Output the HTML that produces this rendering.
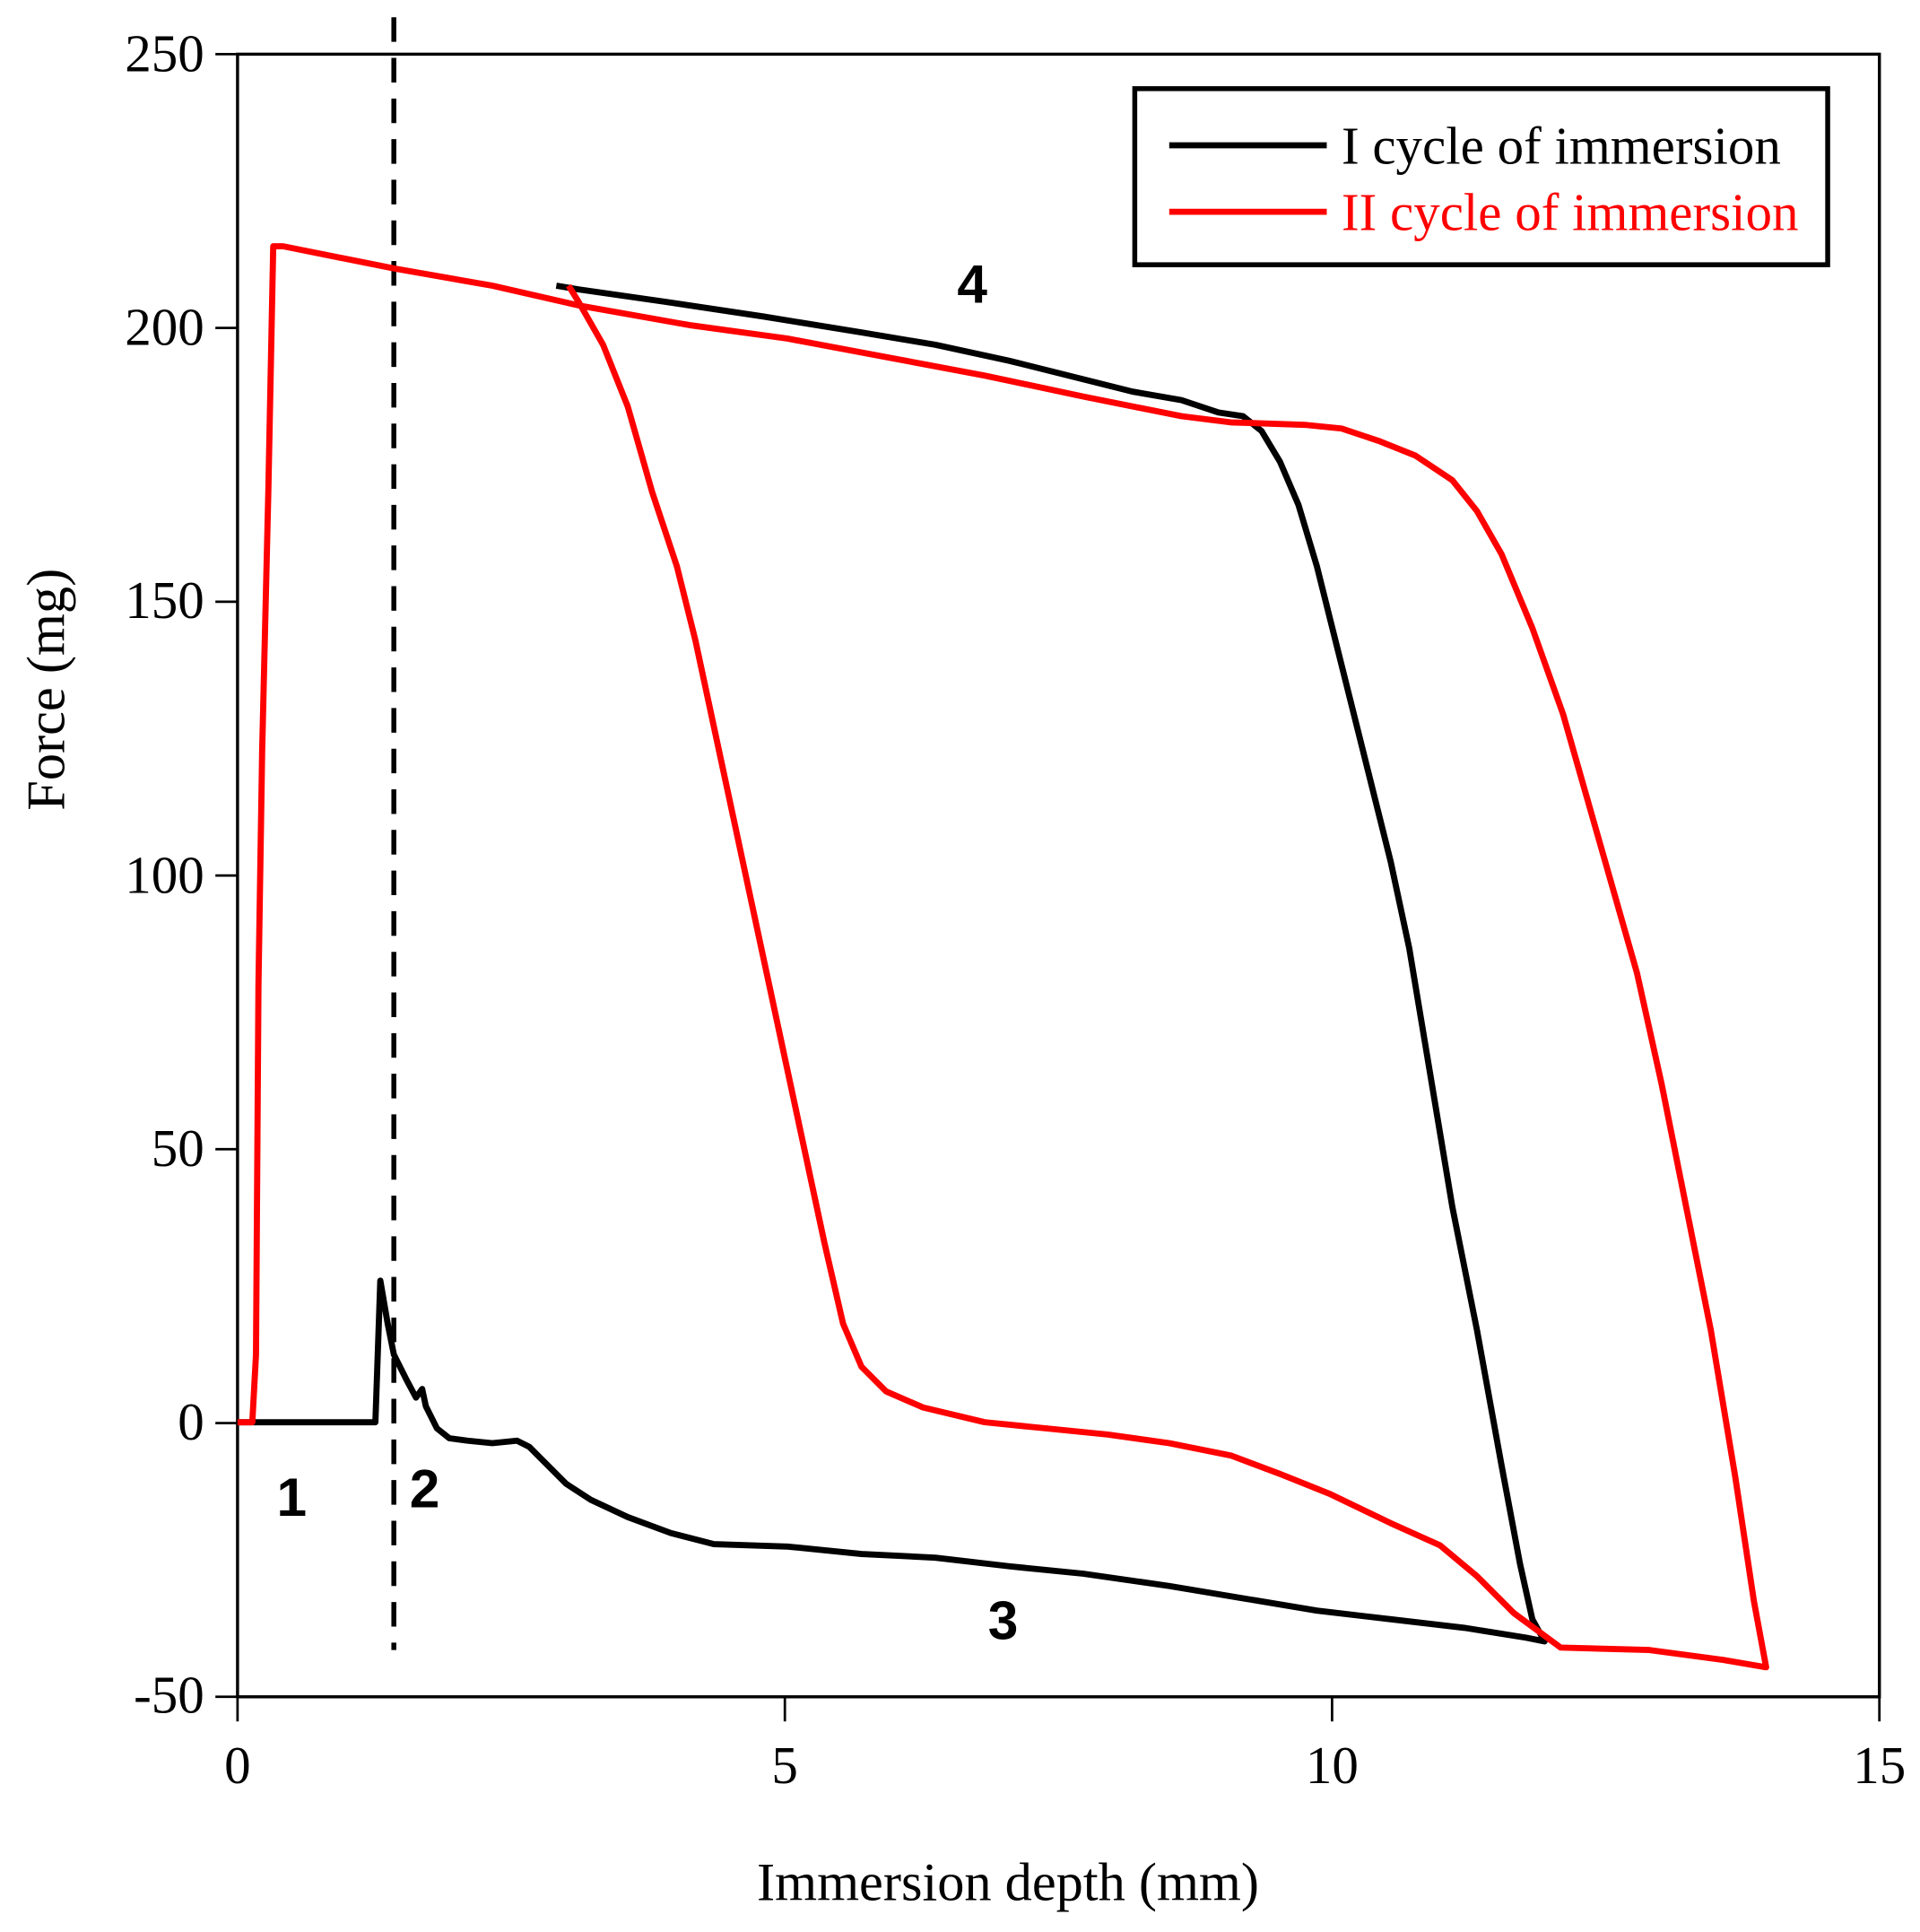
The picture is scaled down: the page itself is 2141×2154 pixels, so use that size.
<!DOCTYPE html>
<html><head><meta charset="utf-8"><style>html,body{margin:0;padding:0;background:#fff}svg{display:block}</style></head>
<body>
<svg width="2141" height="2154" viewBox="0 0 1560 1569" preserveAspectRatio="none" xmlns="http://www.w3.org/2000/svg">
<rect width="1560" height="1569" fill="#fff"/>
<g stroke="#000" stroke-width="2.5" fill="none">
<rect x="193" y="44" width="1334" height="1334"/>
</g>
<g stroke="#000" stroke-width="2">
<line x1="175" y1="44" x2="193" y2="44"/><line x1="175" y1="266.3" x2="193" y2="266.3"/><line x1="175" y1="488.7" x2="193" y2="488.7"/><line x1="175" y1="711" x2="193" y2="711"/><line x1="175" y1="933.3" x2="193" y2="933.3"/><line x1="175" y1="1155.7" x2="193" y2="1155.7"/><line x1="175" y1="1378" x2="193" y2="1378"/>
<line x1="193" y1="1378" x2="193" y2="1398"/><line x1="637.7" y1="1378" x2="637.7" y2="1398"/><line x1="1082.3" y1="1378" x2="1082.3" y2="1398"/><line x1="1527" y1="1378" x2="1527" y2="1398"/>
</g>
<g id="ticks" stroke="#000" stroke-width="1.5"></g>
<g font-family="Liberation Serif, serif" font-size="43" fill="#000">
<g text-anchor="end"><text x="166" y="58">250</text><text x="166" y="280">200</text><text x="166" y="502">150</text><text x="166" y="725">100</text><text x="166" y="947">50</text><text x="166" y="1169">0</text><text x="166" y="1391">-50</text></g>
<g text-anchor="middle"><text x="193" y="1448">0</text><text x="637.7" y="1448">5</text><text x="1082.3" y="1448">10</text><text x="1527" y="1448">15</text>
<text x="819" y="1543" font-size="44">Immersion depth (mm)</text>
<text transform="translate(52,560) rotate(-90)" font-size="44">Force (mg)</text></g>
</g>
<line x1="320" y1="14" x2="320" y2="1340" stroke="#000" stroke-width="4" stroke-dasharray="20,13"/>
<polyline fill="none" stroke="#000" stroke-width="5" stroke-linejoin="round" points="193,1155 305,1155 309,1040 315,1075 320,1100 330,1120 338,1135 343,1128 346,1142 355,1160 365,1168 380,1170 400,1172 420,1170 430,1175 445,1190 460,1205 480,1218 510,1232 545,1245 580,1254 640,1256 700,1262 760,1265 820,1272 880,1278 950,1288 1010,1298 1070,1308 1130,1315 1190,1322 1240,1330 1255,1333 1245,1315 1235,1270 1220,1190 1200,1080 1180,980 1160,860 1145,770 1130,700 1115,640 1100,580 1085,520 1070,460 1055,410 1040,375 1025,350 1010,338 990,335 960,325 920,318 880,308 820,293 760,280 700,270 620,257 540,245 470,235 452,232"/>
<polyline fill="none" stroke="#f00" stroke-width="5" stroke-linejoin="round" points="193,1155 205,1155 208,1100 210,800 213,610 218,400 222,200 230,200 320,218 400,232 470,248 560,264 640,275 720,290 800,305 880,322 960,338 1000,343 1060,345 1090,348 1120,358 1150,370 1180,390 1200,415 1220,450 1245,510 1270,580 1290,650 1310,720 1330,790 1350,880 1370,980 1390,1080 1410,1200 1425,1300 1435,1354 1400,1348 1340,1340 1268,1338 1230,1310 1200,1280 1170,1255 1130,1237 1080,1213 1040,1197 1000,1182 950,1172 900,1165 850,1160 800,1155 750,1143 720,1130 700,1110 685,1075 670,1010 655,940 640,870 625,800 610,730 595,660 580,590 565,520 550,460 530,400 510,330 490,280 470,245 462,232"/>
<g font-family="Liberation Sans, sans-serif" font-weight="bold" font-size="44" fill="#000" text-anchor="middle">
<text x="237" y="1231">1</text><text x="345" y="1224">2</text><text x="815" y="1331">3</text><text x="790" y="246">4</text>
</g>
<rect x="922" y="72" width="563" height="143" fill="#fff" stroke="#000" stroke-width="4"/>
<line x1="950" y1="118" x2="1078" y2="118" stroke="#000" stroke-width="5"/>
<line x1="950" y1="172" x2="1078" y2="172" stroke="#f00" stroke-width="5"/>
<g font-family="Liberation Serif, serif" font-size="43">
<text x="1090" y="133" fill="#000">I cycle of immersion</text>
<text x="1090" y="187" fill="#f00">II cycle of immersion</text>
</g>
<script>
var g=document.getElementById('ticks'),s='';
for(var i=0;i<=30;i++){if(i%5==0)continue;var y=1378-i*44.467;s+='<line x1="184" y1="'+y+'" x2="193" y2="'+y+'"/>';}
for(var j=1;j<30;j++){if(j%10==0)continue;var x=193+j*44.467;s+='<line x1="'+x+'" y1="1378" x2="'+x+'" y2="1387"/>';}
g.innerHTML=s;
</script>
</svg>
</body></html>
